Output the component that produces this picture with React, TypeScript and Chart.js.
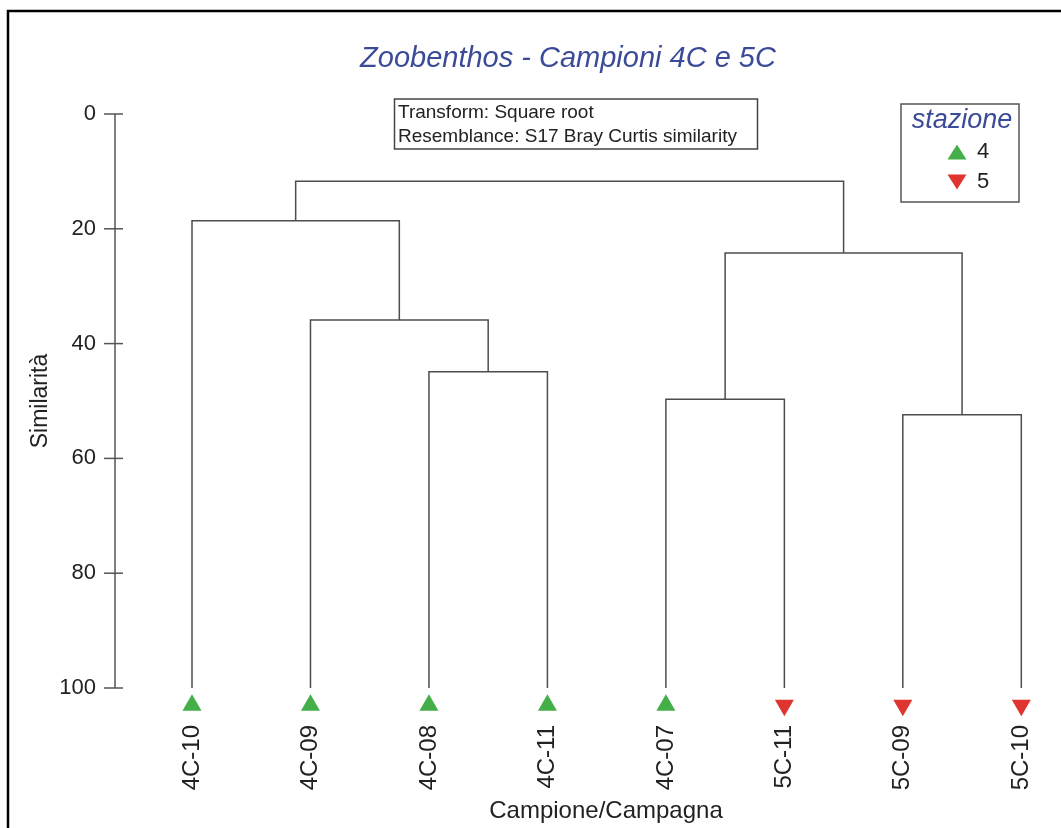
import React, { useEffect, useRef } from 'react';
import { Chart, registerables } from 'chart.js';

Chart.register(...registerables);

// ---- data ----
const leaves = ['4C-10', '4C-09', '4C-08', '4C-11', '4C-07', '5C-11', '5C-09', '5C-10'];
const stations = [4, 4, 4, 4, 4, 5, 5, 5];
// merge steps: ids < leaves.length are leaves, ids >= leaves.length refer to earlier merges
const mergeA = [2, 1, 0, 4, 6, 11, 10];
const mergeB = [3, 8, 9, 5, 7, 12, 13];
const mergeLevel = [44.9, 35.9, 18.6, 49.7, 52.4, 24.2, 11.7];
const yTicks = [0, 20, 40, 60, 80, 100];
const legendStations = [4, 5];
const leafLevel = 100;
const markerLevel = 103;
const yAxisMax = 102;

const titleText = 'Zoobenthos - Campioni 4C e 5C';
const infoLines = ['Transform: Square root', 'Resemblance: S17 Bray Curtis similarity'];
const legendTitle = 'stazione';
const xTitle = 'Campione/Campagna';
const yTitle = 'Similarità';

const FONT = '"Liberation Sans", Arial, sans-serif';
const GREEN = '#44ae48';
const RED = '#e03431';
const BLUE = '#3c4b98';
const LINE = '#4d4d4d';
const TEXT = '#222';

function buildSegments() {
  const pos: number[] = leaves.map((_, i) => i);
  const lvl: number[] = leaves.map(() => leafLevel);
  const segs: { x: number; y: number }[][] = [];
  for (let k = 0; k < mergeA.length; k++) {
    const a = mergeA[k];
    const b = mergeB[k];
    const L = mergeLevel[k];
    segs.push([
      { x: pos[a], y: lvl[a] },
      { x: pos[a], y: L },
      { x: pos[b], y: L },
      { x: pos[b], y: lvl[b] },
    ]);
    pos.push((pos[a] + pos[b]) / 2);
    lvl.push(L);
  }
  return segs;
}

function tri(ctx: CanvasRenderingContext2D, x: number, y: number, w: number, h: number, up: boolean, color: string) {
  ctx.beginPath();
  if (up) {
    ctx.moveTo(x, y - h / 2);
    ctx.lineTo(x + w / 2, y + h / 2);
    ctx.lineTo(x - w / 2, y + h / 2);
  } else {
    ctx.moveTo(x, y + h / 2);
    ctx.lineTo(x + w / 2, y - h / 2);
    ctx.lineTo(x - w / 2, y - h / 2);
  }
  ctx.closePath();
  ctx.fillStyle = color;
  ctx.fill();
}

const decorPlugin = {
  id: 'decor',
  afterDraw(chart: any) {
    const ctx: CanvasRenderingContext2D = chart.ctx;
    const yScale = chart.scales.y;
    const W = chart.width;
    const H = chart.height;
    ctx.save();

    // frame (top + left)
    ctx.strokeStyle = '#000';
    ctx.lineWidth = 2.5;
    ctx.beginPath();
    ctx.moveTo(8, H);
    ctx.lineTo(8, 11);
    ctx.lineTo(W, 11);
    ctx.stroke();

    // y axis line (0..100) and tick marks crossing it
    const ax = chart.chartArea.left;
    const y0 = yScale.getPixelForValue(yTicks[0]);
    const y1 = yScale.getPixelForValue(yTicks[yTicks.length - 1]);
    ctx.strokeStyle = '#555';
    ctx.lineWidth = 1.5;
    ctx.beginPath();
    ctx.moveTo(ax, y0);
    ctx.lineTo(ax, y1);
    ctx.stroke();
    yTicks.forEach((v) => {
      const py = yScale.getPixelForValue(v);
      ctx.beginPath();
      ctx.moveTo(ax - 11, py);
      ctx.lineTo(ax + 8, py);
      ctx.stroke();
    });

    // y axis title
    ctx.save();
    ctx.translate(40.5, (y0 + y1) / 2);
    ctx.rotate(-Math.PI / 2);
    ctx.fillStyle = TEXT;
    ctx.font = `23px ${FONT}`;
    ctx.textAlign = 'center';
    ctx.textBaseline = 'middle';
    ctx.fillText(yTitle, 0, 0);
    ctx.restore();

    // title
    ctx.fillStyle = BLUE;
    ctx.font = `italic 29px ${FONT}`;
    ctx.textAlign = 'center';
    ctx.textBaseline = 'alphabetic';
    ctx.fillText(titleText, 568, 67);

    // info box
    ctx.strokeStyle = '#444';
    ctx.lineWidth = 1.5;
    ctx.strokeRect(394.5, 99, 363, 50);
    ctx.fillStyle = TEXT;
    ctx.font = `19px ${FONT}`;
    ctx.textAlign = 'left';
    infoLines.forEach((t, i) => ctx.fillText(t, 398, 118 + i * 23.5));

    // legend box
    ctx.strokeStyle = '#555';
    ctx.strokeRect(901, 104, 118, 98);
    ctx.fillStyle = BLUE;
    ctx.font = `italic 27px ${FONT}`;
    ctx.textAlign = 'center';
    ctx.fillText(legendTitle, 962, 128);
    legendStations.forEach((s, i) => {
      const cy = 152 + i * 30;
      tri(ctx, 957, cy, 19, 15, s === 4, s === 4 ? GREEN : RED);
      ctx.fillStyle = TEXT;
      ctx.font = `22px ${FONT}`;
      ctx.textAlign = 'left';
      ctx.textBaseline = 'middle';
      ctx.fillText(String(s), 977, cy);
      ctx.textBaseline = 'alphabetic';
    });

    // x axis title
    ctx.fillStyle = TEXT;
    ctx.font = `24px ${FONT}`;
    ctx.textAlign = 'center';
    ctx.textBaseline = 'middle';
    ctx.fillText(xTitle, 606, 811);

    ctx.restore();
  },
};

export default function App() {
  const ref = useRef<HTMLCanvasElement | null>(null);

  useEffect(() => {
    if (!ref.current) return;
    Chart.defaults.font.family = FONT;
    const segs = buildSegments();
    const datasets: any[] = segs.map((d) => ({
      type: 'scatter',
      data: d,
      showLine: true,
      borderColor: LINE,
      borderWidth: 1.5,
      pointRadius: 0,
      tension: 0,
      clip: false,
    }));
    legendStations.forEach((s) => {
      datasets.push({
        type: 'scatter',
        data: leaves
          .map((_, i) => ({ x: i, y: markerLevel, s: stations[i] }))
          .filter((p) => p.s === s)
          .map((p) => ({ x: p.x, y: p.y })),
        showLine: false,
        pointStyle: 'triangle',
        pointRadius: 11,
        pointRotation: s === 4 ? 0 : 180,
        backgroundColor: s === 4 ? GREEN : RED,
        borderColor: s === 4 ? GREEN : RED,
        borderWidth: 0,
        clip: false,
      });
    });

    const chartTop = 114;
    const pxPerUnit = 5.74;
    const chartBottom = chartTop + yAxisMax * pxPerUnit;

    const chart = new Chart(ref.current, {
      type: 'scatter',
      data: { datasets },
      options: {
        responsive: false,
        animation: false,
        events: [],
        layout: { padding: { top: chartTop, right: 16, left: 0, bottom: 0 } },
        plugins: {
          legend: { display: false },
          tooltip: { enabled: false },
          title: { display: false },
        },
        scales: {
          x: {
            type: 'linear',
            min: -0.65,
            max: 7.2,
            grid: { display: false, drawTicks: false },
            border: { display: false },
            afterBuildTicks: (s: any) => {
              s.ticks = leaves.map((_, i) => ({ value: i }));
            },
            afterFit: (s: any) => {
              s.height = 828 - chartBottom;
              s.paddingLeft = 0;
              s.paddingRight = 0;
            },
            ticks: {
              autoSkip: false,
              minRotation: 90,
              maxRotation: 90,
              padding: 725 - chartBottom,
              color: TEXT,
              font: { family: FONT, size: 24 },
              callback: (v: any) => leaves[v] ?? '',
            },
          },
          y: {
            type: 'linear',
            reverse: true,
            min: 0,
            max: yAxisMax,
            afterBuildTicks: (s: any) => {
              s.ticks = yTicks.map((v) => ({ value: v }));
            },
            afterFit: (s: any) => {
              s.width = 115;
            },
            grid: { display: false, drawTicks: false },
            border: { display: false },
            ticks: {
              padding: 19,
              color: TEXT,
              font: { family: FONT, size: 22 },
            },
          },
        },
      } as any,
      plugins: [decorPlugin],
    });
    return () => chart.destroy();
  }, []);

  return (
    <div style={{ position: 'absolute', left: 0, top: 0, width: 1061, height: 828, background: '#fff' }}>
      <canvas ref={ref} width={1061} height={828} style={{ width: 1061, height: 828, display: 'block' }} />
    </div>
  );
}
